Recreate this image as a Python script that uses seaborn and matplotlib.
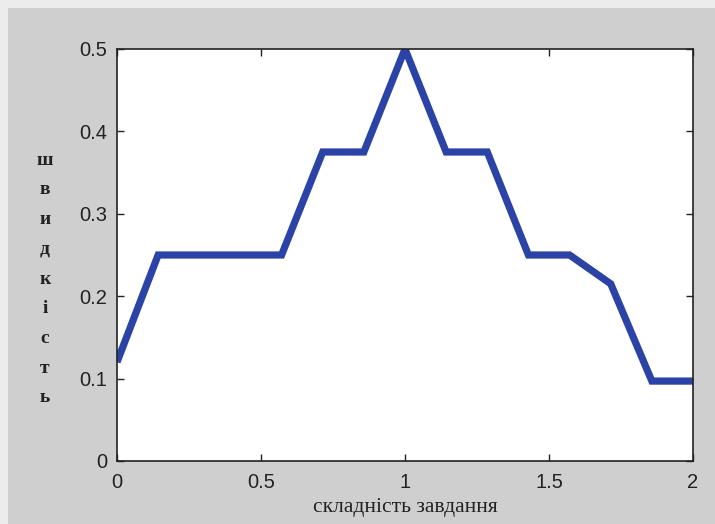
import numpy as np
import pandas as pd
import seaborn as sns
import matplotlib.pyplot as plt
from matplotlib.patches import Rectangle

# breakpoints of the curve, x step is 1/7
x_vals = [0, 1/7, 2/7, 3/7, 4/7, 5/7, 6/7, 1, 8/7, 9/7, 10/7, 11/7, 12/7, 13/7, 2]
y_vals = [0.12, 0.25, 0.25, 0.25, 0.25, 0.375, 0.375, 0.5, 0.375, 0.375,
          0.25, 0.25, 0.215, 0.097, 0.097]
x_ticks = [0, 0.5, 1, 1.5, 2]
x_tick_labels = ['0', '0.5', '1', '1.5', '2']
y_ticks = [0, 0.1, 0.2, 0.3, 0.4, 0.5]
y_tick_labels = ['0', '0.1', '0.2', '0.3', '0.4', '0.5']
x_title = 'складність завдання'
y_title = 'швидкість'

df = pd.DataFrame({'x': x_vals, 'y': y_vals})

sns.set_style('ticks')
plt.rcParams['font.family'] = ['Liberation Sans', 'DejaVu Sans']

fig = plt.figure(figsize=(7.15, 5.24), dpi=100)
fig.patch.set_facecolor('#cfcfcf')
# light strip along the top and left edge of the screenshot
fig.patches.append(Rectangle((0, 0.985), 1, 0.015, transform=fig.transFigure,
                             facecolor='#ececec', edgecolor='none', zorder=0))
fig.patches.append(Rectangle((0, 0), 0.011, 1, transform=fig.transFigure,
                             facecolor='#ececec', edgecolor='none', zorder=0))

ax = fig.add_axes([117 / 715, 1 - 461 / 524, 576 / 715, 412 / 524])
ax.set_facecolor('white')

sns.lineplot(data=df, x='x', y='y', ax=ax, color='#2b43a6', linewidth=5.2,
             solid_joinstyle='miter', solid_capstyle='butt')

ax.set_xlim(0, 2)
ax.set_ylim(0, 0.5)
ax.set_xticks(x_ticks)
ax.set_xticklabels(x_tick_labels)
ax.set_yticks(y_ticks)
ax.set_yticklabels(y_tick_labels)
ax.tick_params(direction='in', length=5, width=1, top=True, right=True,
               labelsize=14.5, colors='#222222')
ax.tick_params(axis='x', pad=9)
ax.tick_params(axis='y', pad=7)
for s in ax.spines.values():
    s.set_visible(True)
    s.set_linewidth(1.2)
    s.set_color('#222222')

ax.set_xlabel(x_title, family=['Liberation Serif', 'DejaVu Serif'], size=15.5,
              color='#222222', labelpad=4)
ax.set_ylabel('')
fig.text(45 / 715, 1 - 279 / 524, '\n'.join(y_title), ha='center', va='center',
         family=['Liberation Serif', 'DejaVu Serif'], size=14, color='#222222',
         linespacing=1.98, weight='bold')

plt.savefig('out.png', dpi=100, facecolor=fig.get_facecolor())
